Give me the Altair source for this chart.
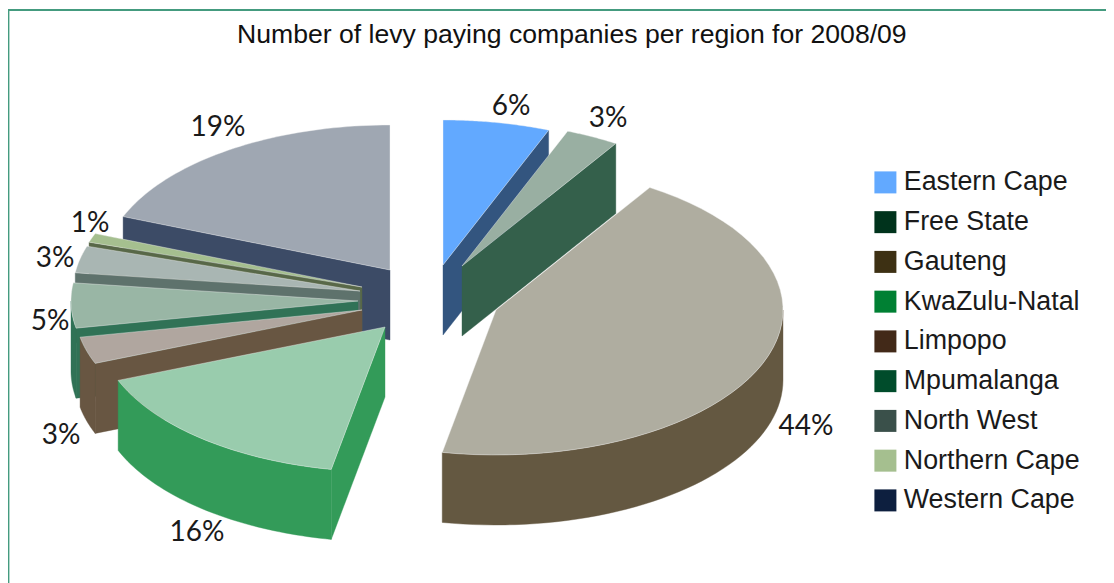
import math
import altair as alt

# --- values ---
regions = ["Eastern Cape", "Free State", "Gauteng", "KwaZulu-Natal", "Limpopo",
           "Mpumalanga", "North West", "Northern Cape", "Western Cape"]
shares = [6, 3, 44, 16, 3, 5, 3, 1, 19]
labels = ["6%", "3%", "44%", "16%", "3%", "5%", "3%", "1%", "19%"]

# --- styles ---
legend_colors = ["#62A9FF", "#00331C", "#3D3013", "#008033", "#422918",
                 "#004C2B", "#3A504A", "#A5BF8F", "#0D1F3F"]
top_colors = ["#62A9FF", "#99AFA2", "#AFADA0", "#99CCAD", "#B0A69F",
              "#99B6A5", "#A9B6B3", "#A5BF8F", "#9FA7B2"]
wall_colors = ["#33557F", "#34604B", "#645841", "#339B59", "#685642",
               "#307256", "#5E726C", "#586848", "#3C4B66"]

# --- layout, page pixels ---
PAGE = 8
RX, RY, DEPTH = 287, 145, 70
apex = [(443, 265), (462, 266), (496, 310), (385, 327), (362, 310),
        (358, 301), (360, 291), (362, 287), (390, 270)]
label_pos = [(511, 107), (608, 119), (806, 427), (197, 533), (61, 436),
             (50, 322), (55, 259), (90, 224), (218, 128)]
draw_order = [8, 7, 6, 5, 4, 3, 0, 1, 2]


def rim(i, angle, depth=0):
    a = math.radians(angle)
    return [apex[i][0] + RX * math.sin(a) - PAGE,
            apex[i][1] - RY * math.cos(a) + depth - PAGE]


def feature(ring, fill, stroke):
    return {"type": "Feature",
            "geometry": {"type": "Polygon", "coordinates": [ring + [ring[0]]]},
            "properties": {"fill": fill, "stroke": stroke}}


starts, total = [], 0
for s in shares:
    starts.append(total * 3.6)
    total += s

faces = []
for i in draw_order:
    a1, a2 = starts[i], starts[i] + shares[i] * 3.6
    cx, cy = apex[i][0] - PAGE, apex[i][1] - PAGE
    wall = wall_colors[i]
    # cut face on the starting edge, visible when it turns to the viewer
    if 180 < a1 < 360:
        faces.append(feature([[cx, cy], rim(i, a1), rim(i, a1, DEPTH), [cx, cy + DEPTH]], wall, wall))
    # cut face on the ending edge
    if 0 < a2 < 180:
        faces.append(feature([[cx, cy], rim(i, a2), rim(i, a2, DEPTH), [cx, cy + DEPTH]], wall, wall))
    # outer wall
    lo, hi = max(a1, 90), min(a2, 270)
    if lo < hi:
        steps = [lo + (hi - lo) * k / 48 for k in range(49)]
        faces.append(feature([rim(i, t) for t in steps] + [rim(i, t, DEPTH) for t in reversed(steps)], wall, wall))
    # top face
    steps = [a1 + (a2 - a1) * k / 48 for k in range(49)]
    faces.append(feature([[cx, cy]] + [rim(i, t) for t in steps], top_colors[i], "#F2F2F2"))

W, H = 1098, 575
projection = alt.Projection(type="identity", scale=1, translate=[0, 0])

frame = alt.Chart(alt.Data(values=[{
    "type": "Feature",
    "geometry": {"type": "LineString", "coordinates": [[0.4, H], [0.4, 2], [W, 2]]},
    "properties": {},
}])).mark_geoshape(filled=False, stroke="#449B7F", strokeWidth=2)

pie = alt.Chart(alt.Data(values=faces)).mark_geoshape(strokeWidth=0.4).encode(
    fill=alt.Fill("properties.fill:N", scale=None, legend=None),
    stroke=alt.Stroke("properties.stroke:N", scale=None, legend=None),
)

label_rows = [{"lon": x - PAGE, "lat": y - PAGE, "t": t} for (x, y), t in zip(label_pos, labels)]
text = alt.Chart(alt.Data(values=label_rows)).mark_text(
    font="Lato", fontSize=28, color="#1A1A1A", align="center", baseline="middle"
).encode(longitude="lon:Q", latitude="lat:Q", text="t:N")

legend_rows = [{"region": r} for r in regions]
legend = alt.Chart(alt.Data(values=legend_rows)).mark_square(opacity=0, size=1).encode(
    color=alt.Color(
        "region:N",
        sort=regions,
        scale=alt.Scale(domain=regions, range=legend_colors),
        legend=alt.Legend(
            title=None, orient="none", legendX=864, legendY=161,
            symbolType="square", symbolSize=484, symbolOpacity=1, symbolStrokeWidth=0,
            labelFont="Liberation Sans", labelFontSize=26.8, labelColor="#1A1A1A",
            labelOffset=5, rowPadding=11.75, labelLimit=300,
        ),
    )
)

chart = alt.layer(frame, pie, text, legend, projection=projection).properties(
    width=W, height=H, padding=0,
    autosize=alt.AutoSizeParams(type="none"),
    title=alt.TitleParams(
        "Number of levy paying companies per region for 2008/09",
        font="Liberation Sans", fontSize=26.6, fontWeight="normal", color="#111111",
        anchor="start", frame="group", offset=-62, dx=229, baseline="alphabetic",
    ),
).configure_view(stroke=None)

chart.save("out.html", embed_options={"renderer": "svg", "actions": False})
